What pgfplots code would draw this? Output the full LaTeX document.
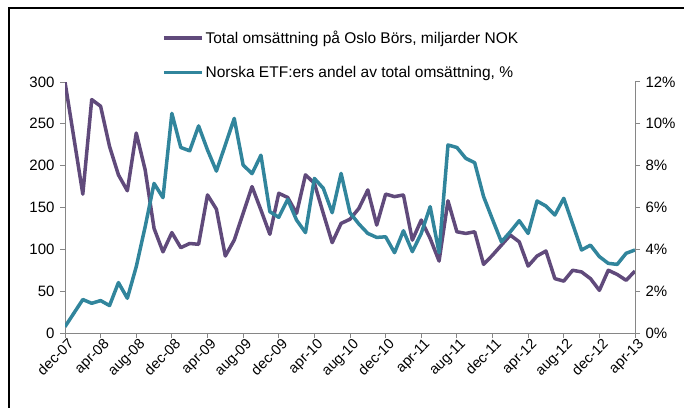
\documentclass[border=0pt]{standalone}
\usepackage{pgfplots}
\pgfplotsset{compat=1.18}
\usepackage{pgfplotstable}
\usepackage{fontspec}
\setmainfont{Liberation Sans}
\definecolor{cpurple}{HTML}{604A7B}
\definecolor{cteal}{HTML}{31859C}
\definecolor{cax}{HTML}{868686}
\pgfplotstableread{
i tot
0 300
1 233
2 166
3 279
4 271
5 223
6 189
7 170
8 239
9 195
10 125
11 97
12 120
13 102
14 107
15 106
16 165
17 148
18 92
19 111
20 143
21 175
22 147
23 118
24 167
25 162
26 143
27 189
28 179
29 143
30 108
31 131
32 136
33 149
34 171
35 129
36 166
37 163
38 165
39 111
40 135
41 113
42 86
43 158
44 121
45 119
46 121
47 82
48 93
49 105
50 117
51 109
52 80
53 92
54 98
55 65
56 62
57 75
58 73
59 65
60 51
61 75
62 70
63 63
64 74
}\tottable
\pgfplotstableread{
i etf
0 0.3
1 0.95
2 1.6
3 1.42
4 1.55
5 1.31
6 2.41
7 1.66
8 3.17
9 5.08
10 7.15
11 6.47
12 10.5
13 8.87
14 8.71
15 9.9
16 8.75
17 7.74
18 8.99
19 10.26
20 8.03
21 7.62
22 8.5
23 5.8
24 5.53
25 6.39
26 5.4
27 4.8
28 7.39
29 6.92
30 5.75
31 7.63
32 5.75
33 5.21
34 4.76
35 4.57
36 4.6
37 3.84
38 4.89
39 3.89
40 4.76
41 6.04
42 3.84
43 8.99
44 8.87
45 8.35
46 8.14
47 6.52
48 5.43
49 4.36
50 4.84
51 5.37
52 4.76
53 6.31
54 6.07
55 5.64
56 6.44
57 5.21
58 3.97
59 4.2
60 3.65
61 3.33
62 3.28
63 3.81
64 3.97
}\etftable
\begin{document}
\begin{tikzpicture}
\useasboundingbox (-65pt,-74pt) rectangle (619pt,333pt);
\pgfplotsset{
  every axis/.append style={
    scale only axis, width=570pt, height=251pt,
    at={(0pt,0pt)}, anchor=south west,
    xmin=0, xmax=64,
    axis line style={cax, line width=1pt},
    major tick style={cax, line width=1pt},
    major tick length=5pt,
    tick align=outside,
    /pgf/number format/assume math mode=true,
    tick label style={font=\fontsize{15}{18}\selectfont},
  }
}
\begin{axis}[
  axis y line*=left, axis x line*=bottom,
  ymin=0, ymax=300, ytick={0,50,...,300},
  xtick={0,4,...,64},
  xticklabels={dec-07,apr-08,aug-08,dec-08,apr-09,aug-09,dec-09,apr-10,aug-10,dec-10,apr-11,aug-11,dec-11,apr-12,aug-12,dec-12,apr-13},
  x tick label style={rotate=45, anchor=north east, inner sep=1pt, xshift=3pt, font=\fontsize{14.5}{17}\selectfont},
  yticklabel style={xshift=-2pt},
]
\addplot[cpurple, line width=3.5pt, line join=round] table[x=i, y=tot] {\tottable};
\end{axis}
\begin{axis}[
  axis y line*=right, axis x line=none,
  ymin=0, ymax=12, ytick={0,2,...,12},
  yticklabel={\pgfmathprintnumber{\tick}\%},
  yticklabel style={xshift=2pt},
  legend style={draw=none, fill=none, at={(0.17,1.212)}, anchor=north west,
    font=\fontsize{15.5}{18}\selectfont, row sep=17pt, inner sep=0pt,
    /tikz/every even column/.append style={column sep=8pt}},
  legend cell align=left,
  legend image code/.code={\draw[#1, line width=3.5pt] (0pt,0pt) -- (38pt,0pt);},
]
\addlegendimage{cpurple}
\addlegendentry{Total omsättning på Oslo Börs, miljarder NOK}
\addplot[cteal, line width=3.5pt, line join=round] table[x=i, y=etf] {\etftable};
\addlegendentry{Norska ETF:ers andel av total omsättning, \%}
\end{axis}
\draw[black, line width=1.5pt] (-56pt,-80pt) -- (-56pt,325pt) -- (630pt,325pt);
\end{tikzpicture}
\end{document}
